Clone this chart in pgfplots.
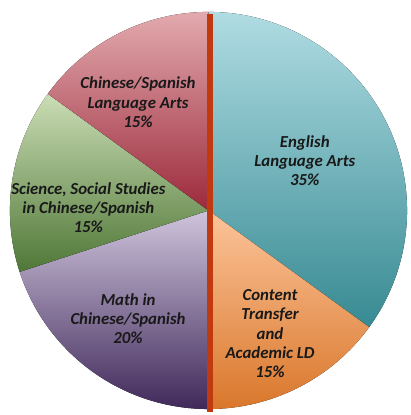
\documentclass[border=0pt]{standalone}
\usepackage{fontspec}
\setmainfont{Carlito}
\usepackage{pgfplots}
\usepackage{pgfplotstable}
\pgfplotsset{compat=1.18}

\definecolor{elaT}{HTML}{B0DCE3}\definecolor{elaB}{HTML}{378A92}
\definecolor{ctT}{HTML}{FCC49A}\definecolor{ctB}{HTML}{D9772B}
\definecolor{mathT}{HTML}{CFC4DC}\definecolor{mathB}{HTML}{40295A}
\definecolor{sciT}{HTML}{CBDDB5}\definecolor{sciB}{HTML}{4F7737}
\definecolor{chT}{HTML}{E2AAAE}\definecolor{chB}{HTML}{9C2A3C}
\definecolor{divider}{HTML}{C1390F}

\tikzset{lbl/.style={font=\fontsize{17}{19.5}\selectfont\bfseries\itshape, align=center, text=black!90, inner sep=0pt}}

% slices clockwise from 12 o'clock
\pgfplotstableread{
pct top bot
35 elaT elaB
15 ctT ctB
20 mathT mathB
15 sciT sciB
15 chT chB
}\slices
\pgfplotstablecreatecol[create col/expr accum={\pgfmathaccuma + \thisrow{pct}}{0}]{cum}\slices

\begin{document}
\begin{tikzpicture}
\begin{axis}[
    x=1bp, y=1bp,
    xmin=-206, xmax=203,
    ymin=-203, ymax=212,
    hide axis,
    clip=false,
]
% keep the full canvas in the bounding box
\addplot[draw=none, forget plot] coordinates {(-206,-203) (203,212)};
\pgfplotsextra{%
  \pgfplotstablegetrowsof{\slices}%
  \pgfmathtruncatemacro\nlast{\pgfplotsretval-1}%
  \foreach \i in {0,...,\nlast}{%
    \pgfplotstablegetelem{\i}{pct}\of\slices \let\p\pgfplotsretval
    \pgfplotstablegetelem{\i}{cum}\of\slices \let\c\pgfplotsretval
    \pgfplotstablegetelem{\i}{top}\of\slices \let\ct\pgfplotsretval
    \pgfplotstablegetelem{\i}{bot}\of\slices \let\cb\pgfplotsretval
    \pgfmathsetmacro\a{90-3.6*(\c-\p)}%
    \pgfmathsetmacro\b{90-3.6*\c}%
    \fill[top color=\ct, bottom color=\cb]
      (axis cs:0,0) -- ++(\a:200bp) arc[start angle=\a, end angle=\b, radius=200bp] -- cycle;
  }%
}
% divider line
\addplot[divider, line width=6bp, forget plot] coordinates {(2,198) (2,-203)};

\node[lbl] at (axis cs:97,50) {English\\Language Arts\\35\%};
\node[lbl] at (axis cs:62,-124) {Content\\Transfer\\and\\Academic LD\\15\%};
\node[lbl] at (axis cs:-81,-109) {Math in\\Chinese/Spanish\\20\%};
\node[lbl] at (axis cs:-121,3) {Science, Social Studies\\in Chinese/Spanish\\15\%};
\node[lbl] at (axis cs:-71,109) {Chinese/Spanish\\Language Arts\\15\%};
\end{axis}
\end{tikzpicture}
\end{document}
